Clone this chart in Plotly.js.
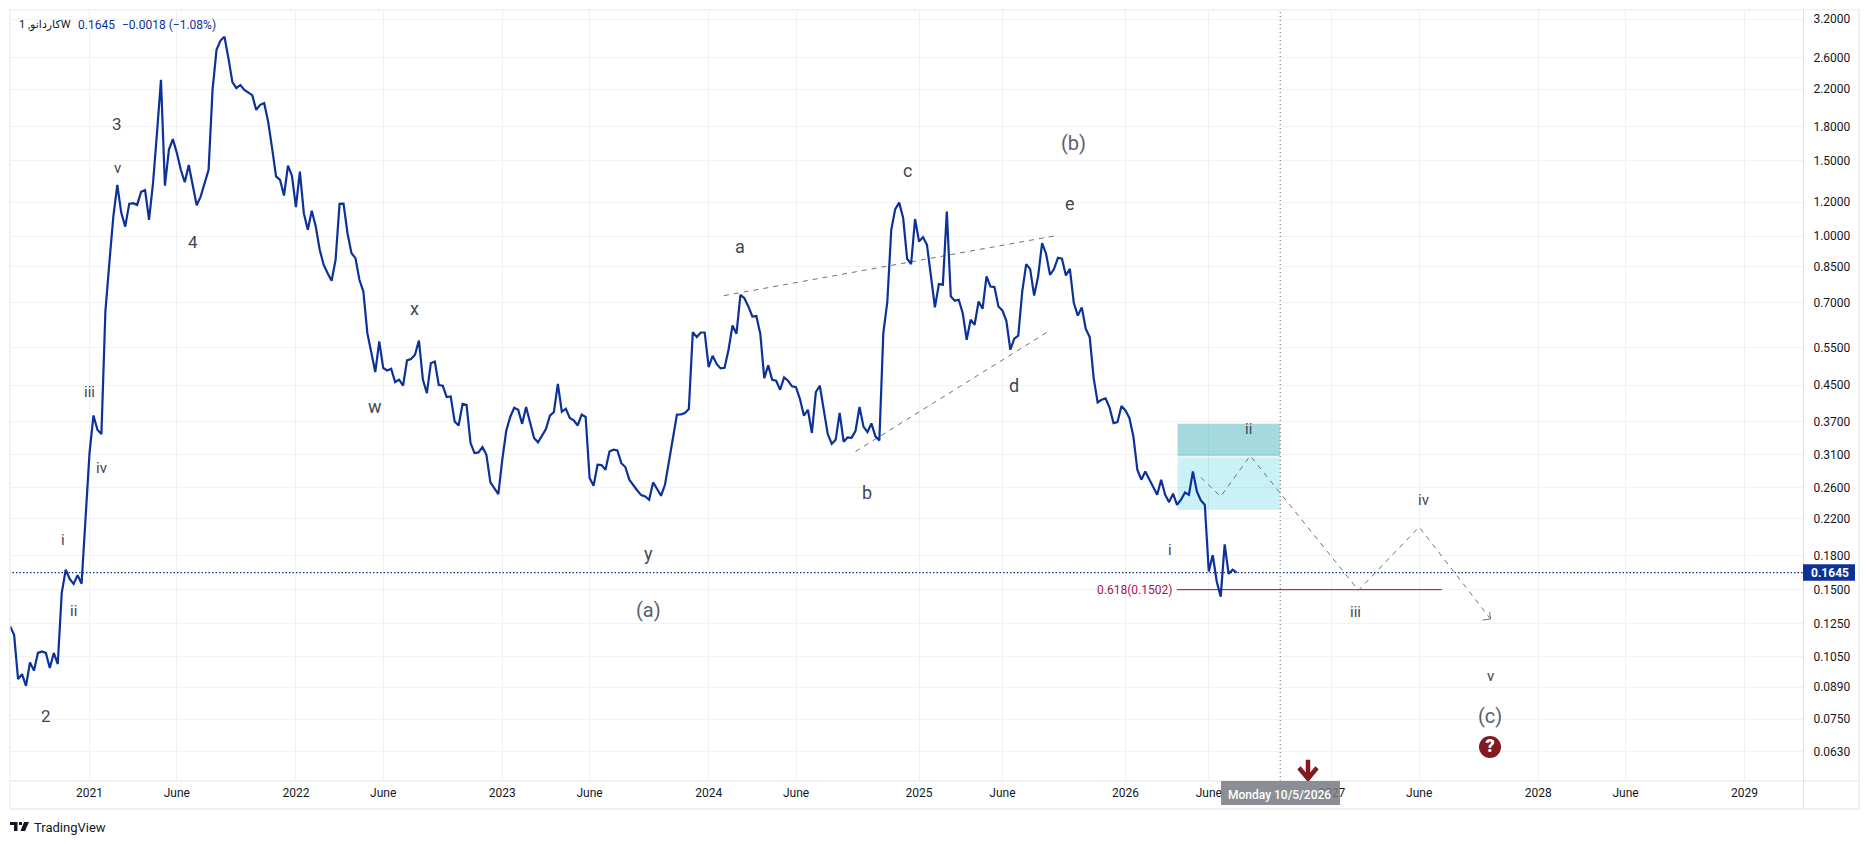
<!DOCTYPE html>
<html><head><meta charset="utf-8">
<script src="https://cdn.plot.ly/plotly-3.0.1.min.js"></script>
<style>html,body{margin:0;padding:0;background:#fff}#c{width:1869px;height:844px}</style>
</head><body><div id="c"></div>
<script>
const firstWeek = '2020-08-17';
const closes = [
.1233,.1179,.0930,.0955,.0897,.1017,.0973,.1070,.1079,.1070,.0987,.1070,.1008,.1475,.1672,.1591,.1549,.1624,.1551,.2150,
.3124,.3823,.3541,.3459,.6677,.8668,1.1103,1.3163,1.1332,1.0524,1.1890,1.1936,1.1826,1.2683,1.280,1.0917,1.329,1.740,2.3122,1.311,
1.5888,1.683,1.563,1.4272,1.336,1.465,1.3163,1.180,1.236,1.329,1.4272,2.1915,2.7156,2.855,2.914,2.597,2.284,2.212,2.250,2.1915,
2.164,2.130,1.9687,2.022,2.041,1.849,1.603,1.378,1.3527,1.243,1.460,1.383,1.169,1.414,1.131,1.0347,1.146,1.053,.9295,.857,
.820,.787,.881,1.189,1.191,1.016,.913,.889,.7914,.743,.5945,.534,.4825,.5685,.4930,.4867,.491,.4573,.463,.4487,
.5135,.5173,.5295,.5715,.463,.431,.506,.5107,.450,.4483,.4218,.4233,.3703,.3623,.4070,.4045,.3297,.3125,.3135,.3227,
.3095,.2670,.2590,.2508,.3015,.3522,.3792,.3985,.3942,.3655,.4000,.3670,.3388,.3310,.3430,.3555,.3818,.3893,.4530,.3900,
.3965,.3772,.3723,.3623,.3840,.3792,.2734,.2622,.2935,.2930,.2858,.3152,.3181,.3169,.2960,.2900,.2709,.2627,.2557,.2494,
.2476,.2433,.2670,.2577,.2485,.2640,.2960,.3388,.3840,.3845,.3875,.3957,.5978,.5820,.5965,.5965,.4955,.5265,.5040,.4920,
.4938,.5438,.6193,.5925,.7300,.7170,.6860,.6500,.6515,.5925,.4672,.5000,.4630,.4605,.4388,.4688,.4605,.4470,.4450,.4175,
.3818,.3942,.3480,.4335,.4483,.3978,.3460,.3285,.3357,.3875,.3320,.3398,.3392,.3522,.4000,.3603,.3498,.3663,.3417,.3345,
.5945,.7022,1.0347,1.156,1.197,1.102,.886,.861,1.096,.972,.995,.954,.8055,.6825,.7735,.7710,1.141,.7240,.7075,.7110,
.6620,.5737,.6387,.6220,.7045,.6775,.8055,.7630,.7610,.6860,.6715,.6350,.5438,.5770,.5865,.7430,.8610,.8380,.7270,.8055,
.9635,.9100,.8125,.8380,.8905,.8860,.8100,.8395,.6985,.6530,.6825,.6085,.5820,.4672,.4100,.4159,.4188,.3990,.3670,.3690,
.4020,.3927,.3772,.3417,.2858,.2709,.2832,.2709,.2605,.2500,.2709,.2500,.2402,.2513,.2368,.2433,.2530,.2500,.2832,.2545,
.2424,.2368,.1657,.1808,.1570,.1447,.1915,.1635,.1672,.1645];

const lastPrice = 0.1645;
const fibPrice = 0.1502;
const cursorDate = '2026-10-05';

const yTicks = [3.2,2.6,2.2,1.8,1.5,1.2,1.0,.85,.7,.55,.45,.37,.31,.26,.22,.18,.15,.125,.105,.089,.075,.063];
const xTickDates = ['2021-01-04','2021-06-07','2022-01-03','2022-06-06','2023-01-02','2023-06-05','2024-01-01','2024-06-03','2025-01-06','2025-06-02','2026-01-05','2026-06-01','2027-01-04','2027-06-07','2028-01-03','2028-06-05','2029-01-01'];
const xTickText = ['2021','June','2022','June','2023','June','2024','June','2025','June','2026','June','2027','June','2028','June','2029'];

const upperDates = ['2024-01-28','2025-09-02'];
const upperPrices = [.7270,1.0013];
const lowerDates = ['2024-09-16','2025-08-19'];
const lowerPrices = [.3152,.5965];
const pathDates = ['2026-05-18','2026-06-22','2026-08-13','2027-02-20','2027-06-07','2027-10-11'];
const pathPrices = [.2742,.2475,.3080,.1497,.2102,.1283];
const fibDates = ['2026-04-06','2027-07-17'];

const boxDates = ['2026-04-07','2026-10-05'];
const boxPrices = [.3657,.3062,.2306];

const labelText  = ['3','v','4','x','iii','w','iv','i','ii','2','y','(a)','a','c','(b)','e','b','d','ii','i','iii','iv','v','(c)'];
const labelDates = ['2021-02-22','2021-02-22','2021-07-05','2022-08-01','2021-01-04','2022-05-23','2021-01-26','2020-11-18','2020-12-07','2020-10-20','2023-09-17','2023-09-17','2024-02-25','2024-12-17','2025-10-05','2025-09-30','2024-10-07','2025-06-22','2026-08-10','2026-03-24','2027-02-15','2027-06-15','2027-10-10','2027-10-10'];
const labelPrices = [1.826,1.440,.971,.677,.4345,.4010,.2885,.1964,.1342,.0761,.1828,.1349,.9443,1.419,1.652,1.189,.2526,.4487,.3560,.1861,.1330,.2433,.0945,.0764];
const labelSizes = [17,15,17,18,15,18,15,15,15,17,18,20,18,18,20,18,18,18,15,15,15,15,15,20];

const questionDate = '2027-10-10', questionPrice = .0646;
const arrowDate = '2026-11-23', arrowPrice = .0572;

const W = 1869, H = 844, L = 9, R = 1803, T = 10, B = 781;
const fx = p => (p - L) / (R - L), fy = p => (B - p) / (B - T);
const FONT = 'Roboto, Arial, sans-serif';
const BLUE = '#0c3299', GREY = '#6f727d', TXT = '#131722', BORDER = '#eef0f6', AXIS = '#e0e3eb';

const dates = closes.map((_, i) => new Date(Date.parse(firstWeek + 'T00:00:00Z') + i * 7 * 864e5).toISOString().slice(0, 10));

const lineTrace = (x, y, color, width, dash) => ({x, y, mode: 'lines', type: 'scatter', hoverinfo: 'skip', showlegend: false, line: {color, width, dash, shape: 'linear'}});
const DASH = '5px,5px';
const traces = [
  lineTrace(['2020-08-15','2029-04-14'], [lastPrice, lastPrice], BLUE, 1.2, '1.5px,2px'),
  lineTrace(fibDates, [fibPrice, fibPrice], '#880e4f', 1),
  lineTrace(upperDates, upperPrices, GREY, 1, DASH),
  lineTrace(lowerDates, lowerPrices, GREY, 1, DASH),
  lineTrace(pathDates, pathPrices, GREY, 1, DASH),
  lineTrace(dates, closes, BLUE, 2.2),
  {x: [questionDate], y: [questionPrice], mode: 'markers+text', type: 'scatter', hoverinfo: 'skip', showlegend: false,
   marker: {size: 22, color: '#801922', symbol: 'circle'}, text: ['?'], textposition: 'middle center',
   textfont: {family: FONT, size: 18, color: '#ffffff', weight: 900}}
];

const pxPath = pts => pts.map((q, i) => (i ? 'L ' : 'M ') + (q[0] - L) + ' ' + (B - q[1])).join(' ') + ' Z';
const pixelShape = (path, extra) => Object.assign({type: 'path', path, xref: 'paper', yref: 'paper', xanchor: 0, yanchor: 0, xsizemode: 'pixel', ysizemode: 'pixel', fillcolor: TXT, line: {width: 0}, layer: 'above'}, extra);
const pRect = (x0, y0, x1, y1, fill, layer) => ({type: 'rect', xref: 'paper', yref: 'paper', x0: fx(x0), x1: fx(x1), y0: fy(y0), y1: fy(y1), fillcolor: fill, line: {width: 0}, layer: layer || 'above'});

const shapes = [
  {type: 'rect', xref: 'x', yref: 'y', x0: boxDates[0], x1: boxDates[1], y0: boxPrices[0], y1: boxPrices[1] * 1.003, fillcolor: 'rgba(0,151,167,0.36)', line: {width: 0}, layer: 'between'},
  {type: 'rect', xref: 'x', yref: 'y', x0: boxDates[0], x1: boxDates[1], y0: boxPrices[1] * 0.997, y1: boxPrices[2], fillcolor: 'rgba(0,188,212,0.21)', line: {width: 0}, layer: 'between'},
  {type: 'line', xref: 'x', yref: 'paper', x0: cursorDate, x1: cursorDate, y0: 0, y1: 1, line: {color: '#5d606b', width: 1, dash: '1px,3px'}, layer: 'above'},
  // outer frame and scale separators
  pRect(9, 9, 10.5, 810, BORDER), pRect(9, 9, 1860, 10.5, BORDER), pRect(1858, 9, 1860, 810, BORDER), pRect(9, 808, 1860, 810, BORDER),
  pRect(10, 780.5, 1858, 781.5, AXIS), pRect(1803, 10, 1804, 808, AXIS),
  // last price badge
  pRect(1803, 564.3, 1855, 580.7, BLUE),
  // cursor date badge
  pRect(1221, 781, 1340, 805, 'rgba(120,123,130,0.86)'),
  // projection arrow head
  {type: 'path', xref: 'x', yref: 'y', xsizemode: 'pixel', ysizemode: 'pixel', xanchor: pathDates[5], yanchor: pathPrices[5], path: 'M -8 -1 L 0 0 L -1 7', line: {color: GREY, width: 1}, layer: 'above'},
  // down arrow marker
  {type: 'path', xref: 'x', yref: 'y', xsizemode: 'pixel', ysizemode: 'pixel', xanchor: arrowDate, yanchor: arrowPrice, path: 'M 0 10 L 0 -8 M -9 2 L 0 -9 L 9 2', line: {color: '#801922', width: 4.5}, layer: 'above'},
  // TradingView logo
  pixelShape(pxPath([[10,822],[17.5,822],[17.5,831],[14,831],[14,825],[10,825]])),
  pixelShape(pxPath([[24,822],[29,822],[25,831],[20.5,831]])),
  pixelShape(pxPath([[19,822],[22,822],[22,825],[19,825]]))
];

const annotations = labelText.map((t, i) => ({
  text: t, x: labelDates[i], y: Math.log10(labelPrices[i]), xref: 'x', yref: 'y', showarrow: false, xanchor: 'center', yanchor: 'middle',
  font: {family: FONT, size: labelSizes[i], color: t[0] === '(' ? '#5d606b' : '#434651'}
}));
const note = (text, px, py, font, anchor) => ({text, x: fx(px), y: fy(py), xref: 'paper', yref: 'paper', showarrow: false, xanchor: anchor || 'left', yanchor: 'middle', font});
annotations.push(
  note('1 ,كاردانوW', 16.5, 24.5, {family: 'Roboto, "DejaVu Sans", sans-serif', size: 11, color: TXT}),
  note('0.1645', 75.5, 24.5, {family: FONT, size: 12, color: BLUE}),
  note('−0.0018 (−1.08%)', 119.5, 24.5, {family: FONT, size: 12, color: BLUE}),
  note('TradingView', 32, 827, {family: FONT, size: 13, color: TXT}),
  note('Monday 10/5/2026', 1279, 795, {family: FONT, size: 12, color: '#ffffff', weight: 500}, 'center'),
  note(lastPrice.toFixed(4), 1830, 572.9, {family: FONT, size: 12, color: '#ffffff', weight: 700}, 'center'),
  {text: '0.618(' + fibPrice.toFixed(4) + ')', x: fibDates[0], y: Math.log10(fibPrice), xref: 'x', yref: 'y', showarrow: false, xanchor: 'right', xshift: -3, yanchor: 'middle', font: {family: FONT, size: 12, color: '#a31352'}}
);

const layout = {
  width: W, height: H, margin: {l: L, r: W - R, t: T, b: H - B, pad: 0},
  paper_bgcolor: '#ffffff', plot_bgcolor: '#ffffff', showlegend: false, font: {family: FONT, size: 12, color: TXT},
  xaxis: {type: 'date', range: ['2020-08-15', '2029-04-14'], tickmode: 'array', tickvals: xTickDates, ticktext: xTickText,
    showgrid: true, gridcolor: '#f0f2f5', gridwidth: 1, zeroline: false, showline: false, ticks: 'outside', ticklen: 1, tickcolor: 'rgba(0,0,0,0)',
    tickfont: {family: FONT, size: 12, color: TXT}, fixedrange: true, tickangle: 0},
  yaxis: {type: 'log', side: 'right', range: [-1.2689, 0.5267], tickmode: 'array', tickvals: yTicks, ticktext: yTicks.map(v => v.toFixed(4)),
    showgrid: true, gridcolor: '#f0f2f5', gridwidth: 1, zeroline: false, showline: false, ticks: 'outside', ticklen: 7, tickcolor: 'rgba(0,0,0,0)',
    tickfont: {family: FONT, size: 12, color: TXT}, fixedrange: true},
  shapes, annotations
};
Plotly.newPlot('c', traces, layout, {displayModeBar: false, staticPlot: true});
</script></body></html>
